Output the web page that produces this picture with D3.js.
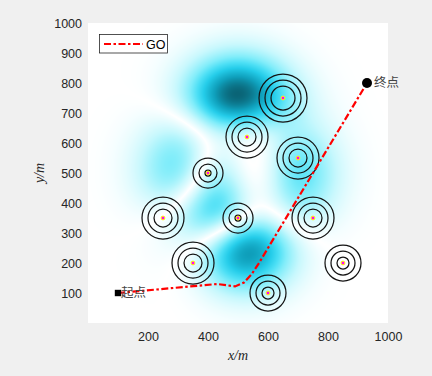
<!DOCTYPE html>
<html><head><meta charset="utf-8">
<script src="https://cdn.jsdelivr.net/npm/d3@7"></script>
<style>html,body{margin:0;padding:0;background:#f0f0f0;}svg{display:block;}</style>
</head><body>
<script>
// ---- data ----
const xTickValues = [200, 400, 600, 800, 1000];
const yTickValues = [100, 200, 300, 400, 500, 600, 700, 800, 900, 1000];
// threat centres and outer radii
const threatX = [400, 530, 650, 700, 250, 500, 750, 350, 850, 600];
const threatY = [500, 620, 750, 550, 350, 350, 350, 200, 200, 100];
const threatR = [50, 70, 80, 70, 70, 50, 70, 70, 60, 60];
const ringOffsets = [0, 20, 40];
// planned path "GO"
const pathX = [100, 430, 490, 520, 545, 570, 930];
const pathY = [100, 130, 122, 135, 162, 200, 800];
const startPt = [100, 100], endPt = [930, 800];
const startLabel = "起点", endLabel = "终点", seriesName = "GO";
// background terrain: MATLAB peaks surface over [-3,3]^2, shown as |z|
const peaksRange = [-3, 3];
const colorStops = [0, 1.5, 3, 4, 5, 6.5, 8.1];
const colorRange = ["#ffffff", "#c8f8fd", "#82edfa", "#4cdff5", "#24cce9", "#0fa0bc", "#0a6476"];

function sq(v) { return v * v; }
function peaks(X, Y) {
  return 3 * sq(1 - X) * Math.exp(-X * X - sq(Y + 1))
    - 10 * (X / 5 - Math.pow(X, 3) - Math.pow(Y, 5)) * Math.exp(-X * X - Y * Y)
    - 1 / 3 * Math.exp(-sq(X + 1) - Y * Y);
}

const W = 432, H = 376;
const m = {left: 88, top: 23, right: 388, bottom: 323};
const x = d3.scaleLinear().domain([0, 1000]).range([m.left, m.right]);
const y = d3.scaleLinear().domain([0, 1000]).range([m.bottom, m.top]);
const toP = d3.scaleLinear().domain([0, 1000]).range(peaksRange);
const color = d3.scaleLinear().domain(colorStops).range(colorRange).clamp(true);

const svg = d3.select("body").append("svg").attr("width", W).attr("height", H);
svg.append("rect").attr("width", W).attr("height", H).attr("fill", "#f0f0f0");

// heat map via canvas
const pw = m.right - m.left, ph = m.bottom - m.top;
const cv = document.createElement("canvas");
cv.width = pw; cv.height = ph;
const ctx = cv.getContext("2d");
const img = ctx.createImageData(pw, ph);
for (let j = 0; j < ph; j++) {
  for (let i = 0; i < pw; i++) {
    const dx = x.invert(m.left + i + 0.5), dy = y.invert(m.top + j + 0.5);
    const z = Math.abs(peaks(toP(dx), toP(dy)));
    const c = d3.rgb(color(z));
    const k = (j * pw + i) * 4;
    img.data[k] = c.r; img.data[k + 1] = c.g; img.data[k + 2] = c.b; img.data[k + 3] = 255;
  }
}
ctx.putImageData(img, 0, 0);
svg.append("image").attr("x", m.left).attr("y", m.top).attr("width", pw).attr("height", ph)
  .attr("preserveAspectRatio", "none").attr("href", cv.toDataURL());

// axes (labels only)
const xAxis = svg.append("g").attr("transform", `translate(0,${m.bottom})`)
  .call(d3.axisBottom(x).tickValues(xTickValues).tickFormat(d3.format("d")).tickSize(0).tickPadding(9));
const yAxis = svg.append("g").attr("transform", `translate(${m.left},0)`)
  .call(d3.axisLeft(y).tickValues(yTickValues).tickFormat(d3.format("d")).tickSize(0).tickPadding(6));
[xAxis, yAxis].forEach(a => {
  a.select(".domain").remove();
  a.selectAll("text").attr("fill", "#262626").style("font-family", "'Liberation Sans', Arial, sans-serif").style("font-size", "12.5px");
});

svg.append("text").attr("x", (m.left + m.right) / 2).attr("y", 360).attr("text-anchor", "middle")
  .style("font-family", "'Liberation Serif', 'Times New Roman', serif").style("font-style", "italic")
  .style("font-size", "14px").attr("fill", "#262626").text("x/m");
svg.append("text").attr("transform", `translate(44,${(m.top + m.bottom) / 2}) rotate(-90)`).attr("text-anchor", "middle")
  .style("font-family", "'Liberation Serif', 'Times New Roman', serif").style("font-style", "italic")
  .style("font-size", "14px").attr("fill", "#262626").text("y/m");

// threats
const threats = threatX.map((d, i) => ({x: d, y: threatY[i], r: threatR[i]}));
const tg = svg.append("g");
threats.forEach(t => {
  ringOffsets.forEach(o => {
    tg.append("circle").attr("cx", x(t.x)).attr("cy", y(t.y))
      .attr("r", x(t.r - o) - x(0)).attr("fill", "none").attr("stroke", "#141414").attr("stroke-width", 1.25);
  });
});
threats.forEach(t => {
  tg.append("circle").attr("cx", x(t.x)).attr("cy", y(t.y)).attr("r", 1.9)
    .attr("fill", "#ff00ff").attr("stroke", "#ffff00").attr("stroke-width", 1);
});

// path
const pts = pathX.map((d, i) => [d, pathY[i]]);
const dash = "7,2.5,2.5,2.5";
svg.append("path").attr("d", d3.line().x(d => x(d[0])).y(d => y(d[1]))(pts))
  .attr("fill", "none").attr("stroke", "#ff0000").attr("stroke-width", 2.2).attr("stroke-dasharray", dash);

// start / end markers
svg.append("rect").attr("x", x(startPt[0]) - 3.2).attr("y", y(startPt[1]) - 3.2).attr("width", 6.4).attr("height", 6.4).attr("fill", "#000");
svg.append("circle").attr("cx", x(endPt[0])).attr("cy", y(endPt[1])).attr("r", 5).attr("fill", "#000");
const cjk = "'Noto Sans CJK SC', sans-serif";
svg.append("text").attr("x", x(startPt[0]) + 3).attr("y", y(startPt[1]) + 1).attr("dominant-baseline", "middle")
  .style("font-family", cjk).style("font-size", "12.5px").attr("fill", "#444").text(startLabel);
svg.append("text").attr("x", x(endPt[0]) + 7).attr("y", y(endPt[1]) + 1).attr("dominant-baseline", "middle")
  .style("font-family", cjk).style("font-size", "12.5px").attr("fill", "#444").text(endLabel);

// legend
const lg = svg.append("g");
lg.append("rect").attr("x", 99.5).attr("y", 34.5).attr("width", 68).attr("height", 18.5)
  .attr("fill", "#fff").attr("stroke", "#262626").attr("stroke-width", 0.8);
lg.append("line").attr("x1", 104).attr("x2", 143).attr("y1", 44).attr("y2", 44)
  .attr("stroke", "#ff0000").attr("stroke-width", 2.2).attr("stroke-dasharray", dash);
lg.append("text").attr("x", 146).attr("y", 48.5).style("font-family", "'Liberation Sans', Arial, sans-serif")
  .style("font-size", "12.5px").attr("fill", "#000").text(seriesName);
</script>
</body></html>
